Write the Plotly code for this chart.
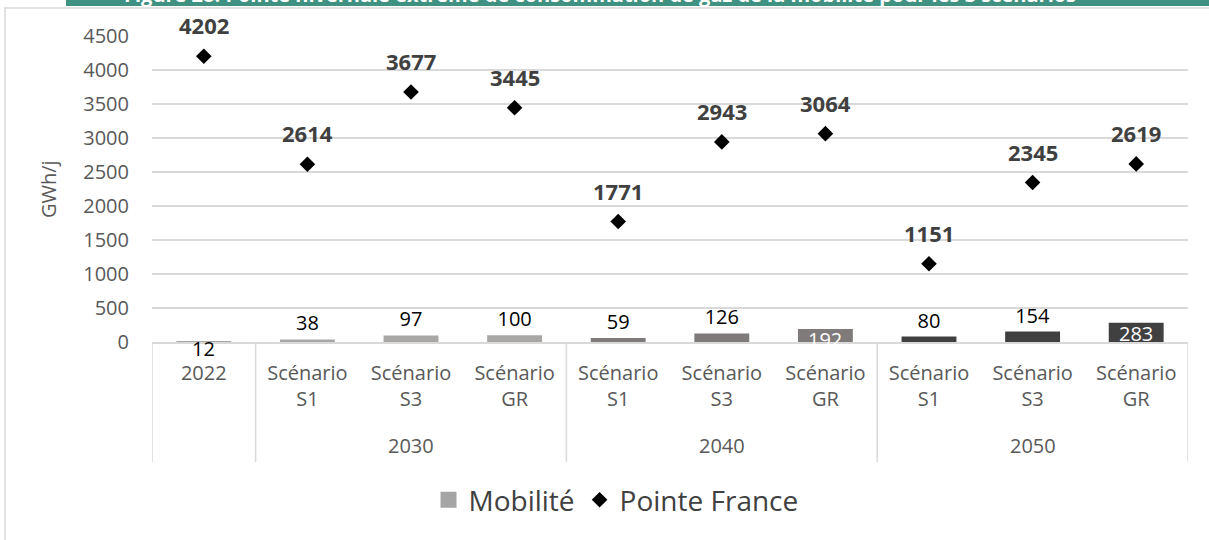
import plotly.graph_objects as go

# ---- data ----
cat_ids = ["2022", "2030-S1", "2030-S3", "2030-GR", "2040-S1", "2040-S3", "2040-GR",
           "2050-S1", "2050-S3", "2050-GR"]
cat_labels = ["2022", "Scénario<br>S1", "Scénario<br>S3", "Scénario<br>GR",
              "Scénario<br>S1", "Scénario<br>S3", "Scénario<br>GR",
              "Scénario<br>S1", "Scénario<br>S3", "Scénario<br>GR"]
year_groups = ["2030", "2040", "2050"]
year_group_centers = ["2030-S3", "2040-S3", "2050-S3"]
mobilite = [12, 38, 97, 100, 59, 126, 192, 80, 154, 283]
pointe_france = [4202, 2614, 3677, 3445, 1771, 2943, 3064, 1151, 2345, 2619]
y_ticks = [0, 500, 1000, 1500, 2000, 2500, 3000, 3500, 4000, 4500]
title_text = "Figure 28: Pointe hivernale extrême de consommation de gaz de la mobilité pour les 3 scénarios"

# ---- styles ----
FONT = "Open Sans"
bar_colors = ["#a9a6a6", "#a9a6a6", "#a9a6a6", "#a9a6a6",
              "#7f7b7b", "#7f7b7b", "#7f7b7b",
              "#404040", "#404040", "#404040"]
# label placement per bar: "out" above the bar, "in" white inside the top, "below" under the axis
bar_label_mode = ["below", "out", "out", "out", "out", "out", "in", "out", "out", "in"]
GRID = "#d9d9d9"

# pixel helpers for layout placement (plot area: x 152..1188, y 36..342)
L, R, T, B = 152, 1188, 36, 342
def px_x(p):
    return (p - L) / (R - L)
def px_y(p):
    return (B - p) / (B - T)

fig = go.Figure()

# legend proxy for bars
fig.add_trace(go.Scatter(x=[None], y=[None], mode="markers", name="Mobilité",
                         marker=dict(symbol="square", size=18, color="#a5a5a5"),
                         showlegend=True, hoverinfo="skip"))

fig.add_trace(go.Bar(
    x=cat_ids, y=mobilite, name="Mobilité", showlegend=False,
    marker=dict(color=bar_colors, line=dict(width=0)),
    width=0.53,
    text=[str(v) if m == "out" else "" for v, m in zip(mobilite, bar_label_mode)],
    textposition="outside",
    textangle=0,
    constraintext="none",
    outsidetextfont=dict(family=FONT, size=20, color="black"),
    cliponaxis=False,
))

fig.add_trace(go.Scatter(
    x=cat_ids, y=pointe_france, name="Pointe France", mode="markers",
    marker=dict(symbol="diamond", size=12, color="black"),
    cliponaxis=False,
))

# annotations on the category axis use the category index
idx = {c: i for i, c in enumerate(cat_ids)}
annotations = []
for c, v, m in zip(cat_ids, mobilite, bar_label_mode):
    if m == "in":
        annotations.append(dict(x=idx[c], y=v, xref="x", yref="y", text=str(v),
                                showarrow=False, yanchor="top", yshift=5,
                                font=dict(family=FONT, size=20, color="white")))
    elif m == "below":
        annotations.append(dict(x=idx[c], y=0, xref="x", yref="y", text=str(v),
                                showarrow=False, yanchor="middle", yshift=-6,
                                font=dict(family=FONT, size=20, color="black")))
for c, v in zip(cat_ids, pointe_france):
    annotations.append(dict(x=idx[c], y=v, xref="x", yref="y", text=f"<b>{v}</b>",
                            showarrow=False, yanchor="middle", yshift=31,
                            font=dict(family=FONT, size=22, color="#404040")))
for g, c in zip(year_groups, year_group_centers):
    annotations.append(dict(x=idx[c], y=px_y(445), xref="x", yref="paper", text=g,
                            showarrow=False, yanchor="middle",
                            font=dict(family=FONT, size=20, color="#595959")))
annotations.append(dict(x=px_x(48), y=px_y(189), xref="paper", yref="paper",
                        text="GWh/j", textangle=-90, showarrow=False,
                        xanchor="center", yanchor="middle",
                        font=dict(family=FONT, size=20, color="#595959")))
annotations.append(dict(x=px_x(122), y=px_y(-6), xref="paper", yref="paper",
                        text=f"<b>{title_text}</b>", showarrow=False,
                        xanchor="left", yanchor="middle",
                        font=dict(family=FONT, size=20, color="white")))

shapes = []
# banner
shapes.append(dict(type="rect", xref="paper", yref="paper", x0=px_x(66), x1=px_x(1230),
                   y0=px_y(6), y1=px_y(-20), fillcolor="#3f9181", line=dict(width=0),
                   layer="below"))
# frame
shapes.append(dict(type="rect", xref="paper", yref="paper", x0=px_x(5), x1=px_x(1230),
                   y0=px_y(560), y1=px_y(8), fillcolor="rgba(0,0,0,0)",
                   line=dict(color=GRID, width=1.5), layer="below"))
# category dividers
n = len(cat_ids)
for xi in [-0.5, 0.5, 3.5, 6.5, n - 0.5]:
    shapes.append(dict(type="line", xref="x", yref="paper", x0=xi, x1=xi,
                       y0=0, y1=px_y(462), line=dict(color=GRID, width=1.5)))

fig.update_layout(
    width=1209, height=540,
    margin=dict(l=L, r=1209 - R, t=T, b=540 - B),
    paper_bgcolor="white", plot_bgcolor="white",
    font=dict(family=FONT, color="#595959"),
    bargap=0.47,
    xaxis=dict(type="category", categoryorder="array", categoryarray=cat_ids,
               tickvals=cat_ids, ticktext=cat_labels, showgrid=False,
               showline=True, linecolor=GRID, linewidth=1.5, ticks="",
               ticklabelstandoff=12, zeroline=False,
               tickfont=dict(family=FONT, size=20, color="#595959"),
               range=[-0.5, n - 0.5]),
    yaxis=dict(range=[0, 4500], tickvals=y_ticks, showgrid=True, gridcolor=GRID,
               gridwidth=1.5, zeroline=False, showline=False, ticks="",
               ticklabelstandoff=22,
               tickfont=dict(family=FONT, size=20, color="#595959")),
    legend=dict(orientation="h", x=px_x(616), xanchor="center", y=px_y(500),
                yanchor="middle", font=dict(family=FONT, size=28, color="#404040"),
                bgcolor="rgba(0,0,0,0)", itemwidth=30),
    annotations=annotations,
    shapes=shapes,
)

fig.write_html("out.html")
